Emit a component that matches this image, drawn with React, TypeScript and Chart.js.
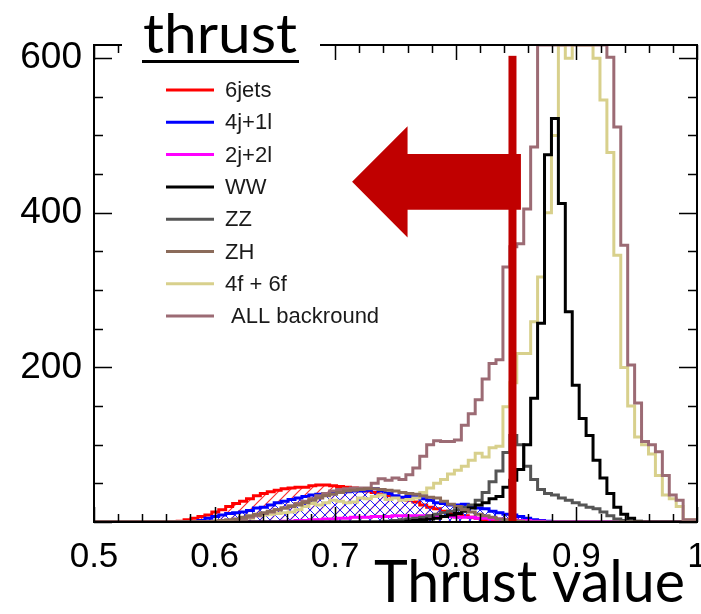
import React, { useEffect, useRef } from "react";
import { Chart, registerables } from "chart.js";

Chart.register(...registerables);

// ---------------- data ----------------
const BIN_START = 0.5;
const BIN_WIDTH = 1 / 174;
const X_MIN = 0.5;
const X_MAX = 1.0;
const Y_MIN = 0;
const Y_MAX = 617;
const X_TICK_LABELS = [0.5, 0.6, 0.7, 0.8, 0.9, 1];
const Y_TICK_LABELS = [200, 400, 600];
const X_TICK_STEP = 0.1;
const X_MINOR_STEP = 0.02;
const Y_TICK_STEP = 200;
const Y_MINOR_STEP = 50;

const SERIES_LABELS = ["6jets", "4j+1l", "2j+2l", "WW", "ZZ", "ZH", "4f + 6f", " ALL backround"];
const SERIES_COLORS = ["#ff0000", "#0000ff", "#ff00ff", "#000000", "#555555", "#8b6b5a", "#d8d08c", "#9c6b74"];
// lower = drawn on top
const SERIES_ORDER = [7, 6, 5, 2, 3, 0, 4, 1];

const SIX_JETS = [
  0, 0, 0, 0, 0, 0, 0, 0, 0, 0,
  0, 0, 0, 1, 3, 5, 7, 9, 13, 16,
  20, 24, 27, 30, 34, 37, 39, 41, 43, 44,
  45, 45, 47, 48, 48, 47, 46, 45, 44, 42,
  40, 38, 36, 34, 32, 30, 28, 26, 22, 19,
  17, 14, 12, 10, 8, 6, 5, 3, 2, 1,
  0, 0, 0, 0, 0, 0, 0, 0, 0, 0,
  0, 0, 0, 0, 0, 0, 0, 0, 0, 0,
  0, 0, 0, 0, 0, 0, 0,
];
const FOURJ_ONEL = [
  0, 0, 0, 0, 0, 0, 0, 0, 0, 0,
  0, 0, 0, 0, 0, 0, 2, 5, 7, 9,
  11, 12, 13, 15, 18, 19, 22, 25, 27, 29,
  31, 33, 35, 36, 37, 38, 38, 39, 40, 40,
  41, 43, 40, 37, 34, 32, 33, 34, 30, 28,
  25, 24, 22, 22, 23, 19, 18, 17, 14, 12,
  10, 9, 7, 5, 3, 2, 1, 0, 0, 0,
  0, 0, 0, 0, 0, 0, 0, 0, 0, 0,
  0, 0, 0, 0, 0, 0, 0,
];
const TWOJ_TWOL = [
  0, 0, 0, 0, 0, 0, 0, 0, 0, 0,
  0, 0, 0, 0, 0, 0, 0, 0, 0, 0,
  0, 0, 0, 0, 0, 0, 0, 0, 1, 1,
  2, 2, 3, 3, 4, 4, 5, 5, 6, 6,
  6, 7, 7, 7, 8, 8, 8, 8, 8, 8,
  7, 7, 7, 6, 6, 6, 5, 5, 4, 4,
  3, 3, 2, 2, 1, 1, 0, 0, 0, 0,
  0, 0, 0, 0, 0, 0, 0, 0, 0, 0,
  0, 0, 0, 0, 0, 0, 0,
];
const WW = [
  0, 0, 0, 0, 0, 0, 0, 0, 0, 0,
  0, 0, 0, 0, 0, 0, 0, 0, 0, 0,
  0, 0, 0, 0, 0, 0, 0, 0, 0, 0,
  0, 0, 0, 0, 0, 0, 0, 0, 0, 0,
  0, 0, 0, 0, 0, 0, 1, 2, 3, 4,
  5, 7, 9, 11, 14, 18, 22, 25, 30, 33,
  45, 54, 68, 100, 160, 257, 475, 522, 412, 272,
  177, 134, 112, 80, 57, 37, 19, 10, 5, 1,
  0, 0, 0, 0, 0, 0, 0,
];
const ZZ = [
  0, 0, 0, 0, 0, 0, 0, 0, 0, 0,
  0, 0, 0, 0, 0, 0, 0, 0, 0, 0,
  0, 0, 0, 0, 0, 0, 0, 0, 0, 0,
  0, 0, 0, 0, 0, 0, 0, 0, 0, 0,
  0, 0, 0, 1, 2, 3, 4, 5, 6, 8,
  10, 12, 14, 16, 19, 22, 28, 38, 52, 66,
  90, 112, 100, 72, 55, 42, 37, 35, 31, 28,
  25, 22, 19, 17, 13, 8, 4, 2, 1, 0,
  0, 0, 0, 0, 0, 0, 0,
];
const ZH = [
  0, 0, 0, 0, 0, 0, 0, 0, 0, 0,
  0, 0, 0, 0, 0, 0, 0, 0, 1, 2,
  3, 4, 6, 8, 10, 12, 14, 16, 18, 20,
  22, 25, 28, 31, 34, 36, 38, 40, 41, 42,
  43, 43, 42, 41, 40, 38, 37, 36, 34, 32,
  31, 27, 23, 20, 16, 13, 10, 8, 6, 4,
  3, 2, 1, 0, 0, 0, 0, 0, 0, 0,
  0, 0, 0, 0, 0, 0, 0, 0, 0, 0,
  0, 0, 0, 0, 0, 0, 0,
];
const FOURF_SIXF = [
  0, 0, 0, 0, 0, 0, 0, 0, 0, 0,
  0, 0, 0, 0, 0, 0, 0, 0, 0, 2,
  2, 2, 2, 5, 8, 9, 10, 11, 12, 13,
  16, 20, 24, 22, 25, 28, 27, 25, 26, 31,
  30, 33, 35, 29, 31, 28, 29, 31, 38, 44,
  50, 55, 62, 67, 72, 80, 89, 84, 96, 98,
  149, 180, 218, 218, 259, 317, 400, 500, 617, 600,
  617, 617, 617, 600, 546, 478, 345, 200, 150, 110,
  100, 88, 60, 35, 30, 20, 3,
];
const ALL_BACKGROUND = [
  0, 0, 0, 0, 0, 0, 0, 0, 0, 0,
  0, 0, 0, 0, 0, 0, 0, 0, 0, 0,
  0, 0, 4, 6, 8, 11, 13, 16, 18, 21,
  24, 27, 30, 34, 37, 40, 42, 43, 44, 44,
  44, 50, 56, 54, 57, 55, 61, 70, 85, 100,
  105, 104, 104, 106, 125, 140, 158, 185, 205, 210,
  330, 356, 360, 405, 485, 617, 617, 617, 617, 617,
  617, 617, 617, 617, 617, 601, 511, 358, 203, 154,
  104, 100, 91, 60, 35, 28, 3,
];
const SERIES_VALUES = [SIX_JETS, FOURJ_ONEL, TWOJ_TWOL, WW, ZZ, ZH, FOURF_SIXF, ALL_BACKGROUND];

// cut annotation (data units)
const CUT_VALUE = 0.847;
const CUT_TOP = 603;
const CUT_COLOR = "#c00000";
const ARROW_TIP_X = 0.714;
const ARROW_NECK_X = 0.76;
const ARROW_TAIL_X = 0.854;
const ARROW_MID_Y = 440;
const ARROW_SHAFT_HALF = 36;
const ARROW_HEAD_HALF = 72;

const TITLE_TEXT = "thrust";
const X_TITLE_TEXT = "Thrust value";

const SANS = '"Liberation Sans", Arial, sans-serif';
const HUMANIST = 'Lato, "Open Sans", sans-serif';

function toSteps(values: number[]) {
  const pts = values.map((v, i) => ({ x: BIN_START + i * BIN_WIDTH, y: v }));
  pts.push({ x: BIN_START + values.length * BIN_WIDTH, y: values[values.length - 1] });
  return pts;
}

function makeHatch(color: string, size: number, cross: boolean, lw: number) {
  const c = document.createElement("canvas");
  c.width = size;
  c.height = size;
  const g = c.getContext("2d")!;
  g.strokeStyle = color;
  g.lineWidth = lw;
  g.beginPath();
  g.moveTo(-1, size + 1);
  g.lineTo(size + 1, -1);
  g.moveTo(-1, 1);
  g.lineTo(1, -1);
  g.moveTo(size - 1, size + 1);
  g.lineTo(size + 1, size - 1);
  if (cross) {
    g.moveTo(-1, -1);
    g.lineTo(size + 1, size + 1);
    g.moveTo(size - 1, -1);
    g.lineTo(size + 1, 1);
    g.moveTo(-1, size - 1);
    g.lineTo(1, size + 1);
  }
  g.stroke();
  return g.createPattern(c, "repeat");
}

function drawFitted(ctx: CanvasRenderingContext2D, text: string, x: number, baseline: number, width: number, font: string) {
  ctx.save();
  ctx.font = font;
  ctx.textAlign = "left";
  ctx.textBaseline = "alphabetic";
  const w = ctx.measureText(text).width;
  ctx.translate(x, baseline);
  ctx.scale(width / w, 1);
  ctx.fillStyle = "#000";
  ctx.fillText(text, 0, 0);
  ctx.restore();
}

const rootStyle = {
  id: "rootStyle",
  afterDatasetsDraw(chart: any) {
    const { ctx, chartArea: a, scales } = chart;
    const xs = scales.x;
    const ys = scales.y;
    const px = (v: number) => xs.getPixelForValue(v);
    const py = (v: number) => ys.getPixelForValue(v);
    ctx.save();
    // cut line
    ctx.fillStyle = CUT_COLOR;
    const cx = px(CUT_VALUE);
    ctx.fillRect(cx - 4, py(CUT_TOP), 8, py(0) - py(CUT_TOP));
    // arrow
    ctx.beginPath();
    ctx.moveTo(px(ARROW_TIP_X), py(ARROW_MID_Y));
    ctx.lineTo(px(ARROW_NECK_X), py(ARROW_MID_Y + ARROW_HEAD_HALF));
    ctx.lineTo(px(ARROW_NECK_X), py(ARROW_MID_Y + ARROW_SHAFT_HALF));
    ctx.lineTo(px(ARROW_TAIL_X), py(ARROW_MID_Y + ARROW_SHAFT_HALF));
    ctx.lineTo(px(ARROW_TAIL_X), py(ARROW_MID_Y - ARROW_SHAFT_HALF));
    ctx.lineTo(px(ARROW_NECK_X), py(ARROW_MID_Y - ARROW_SHAFT_HALF));
    ctx.lineTo(px(ARROW_NECK_X), py(ARROW_MID_Y - ARROW_HEAD_HALF));
    ctx.closePath();
    ctx.fill();

    // frame
    ctx.strokeStyle = "#000";
    ctx.lineWidth = 2;
    ctx.strokeRect(a.left, a.top, a.right - a.left, a.bottom - a.top);
    // ticks (inward, ROOT style)
    ctx.lineWidth = 1.5;
    ctx.beginPath();
    const nx = Math.round((X_MAX - X_MIN) / X_MINOR_STEP);
    const perMajorX = Math.round(X_TICK_STEP / X_MINOR_STEP);
    for (let k = 0; k <= nx; k++) {
      const v = X_MIN + k * X_MINOR_STEP;
      const p = Math.round(px(v)) + 0.5;
      const len = k % perMajorX === 0 ? 15 : 8;
      ctx.moveTo(p, a.bottom);
      ctx.lineTo(p, a.bottom - len);
      ctx.moveTo(p, a.top);
      ctx.lineTo(p, a.top + len);
    }
    const ny = Math.floor((Y_MAX - Y_MIN) / Y_MINOR_STEP);
    const perMajorY = Math.round(Y_TICK_STEP / Y_MINOR_STEP);
    for (let k = 0; k <= ny; k++) {
      const v = Y_MIN + k * Y_MINOR_STEP;
      const p = Math.round(py(v)) + 0.5;
      const len = k % perMajorY === 0 ? 18 : 9;
      ctx.moveTo(a.left, p);
      ctx.lineTo(a.left + len, p);
      ctx.moveTo(a.right, p);
      ctx.lineTo(a.right - len, p);
    }
    ctx.stroke();
    ctx.restore();
  },
  afterDraw(chart: any) {
    const { ctx } = chart;
    ctx.save();
    // title box
    ctx.fillStyle = "#fff";
    ctx.fillRect(122, 0, 198, 80);
    drawFitted(ctx, TITLE_TEXT, 143, 53, 154, `54px ${HUMANIST}`);
    ctx.fillStyle = "#000";
    ctx.fillRect(142, 60, 157, 3);

    // legend
    const rowY0 = 90;
    const rowStep = 32.3;
    ctx.font = `22px ${SANS}`;
    ctx.textBaseline = "middle";
    ctx.textAlign = "left";
    SERIES_LABELS.forEach((lab, i) => {
      const yy = rowY0 + i * rowStep;
      ctx.strokeStyle = SERIES_COLORS[i];
      ctx.lineWidth = 3;
      ctx.beginPath();
      ctx.moveTo(166, yy);
      ctx.lineTo(214, yy);
      ctx.stroke();
      ctx.fillStyle = "#1a1a1a";
      ctx.fillText(lab, 225, yy + 1);
    });

    // x title
    drawFitted(ctx, X_TITLE_TEXT, 374, 602, 311, `58px ${HUMANIST}`);
    ctx.restore();
  },
};

export default function App() {
  const ref = useRef<HTMLCanvasElement | null>(null);
  useEffect(() => {
    if (!ref.current) return;
    const redHatch = makeHatch("#ff3030", 10, false, 1.2);
    const blueHatch = makeHatch("#2020ff", 10, true, 1);
    const datasets = SERIES_LABELS.map((lab, i) => ({
      label: lab,
      data: toSteps(SERIES_VALUES[i]),
      borderColor: SERIES_COLORS[i],
      borderWidth: 3,
      stepped: "after" as const,
      pointRadius: 0,
      tension: 0,
      borderJoinStyle: "miter" as const,
      fill: i === 0 || i === 1 ? "origin" : false,
      backgroundColor: i === 0 ? redHatch : i === 1 ? blueHatch : "transparent",
      order: SERIES_ORDER[i],
    }));
    const chart = new Chart(ref.current, {
      type: "line",
      data: { datasets: datasets as any },
      options: {
        animation: false,
        responsive: false,
        devicePixelRatio: 1,
        events: [],
        layout: { padding: { left: 0, top: 45, right: 4, bottom: 0 } },
        plugins: { legend: { display: false }, tooltip: { enabled: false } },
        scales: {
          x: {
            type: "linear",
            min: X_MIN,
            max: X_MAX,
            grid: { display: false, drawTicks: false },
            border: { display: false },
            afterBuildTicks: (s: any) => {
              s.ticks = X_TICK_LABELS.map((v) => ({ value: v }));
            },
            ticks: {
              autoSkip: false,
              maxRotation: 0,
              padding: 14,
              color: "#000",
              font: { family: SANS, size: 35 },
              callback: (v: any) => String(Number(Number(v).toFixed(2))),
            },
            afterFit: (s: any) => {
              s.height = 92;
              s.paddingLeft = 0;
              s.paddingRight = 0;
            },
          },
          y: {
            type: "linear",
            min: Y_MIN,
            max: Y_MAX,
            grid: { display: false, drawTicks: false },
            border: { display: false },
            afterBuildTicks: (s: any) => {
              s.ticks = Y_TICK_LABELS.map((v) => ({ value: v }));
            },
            ticks: {
              autoSkip: false,
              padding: 12,
              color: "#000",
              font: { family: SANS, size: 37 },
              callback: (v: any) => String(v),
            },
            afterFit: (s: any) => {
              s.width = 94;
              s.paddingTop = 0;
              s.paddingBottom = 0;
            },
          },
        },
      } as any,
      plugins: [rootStyle],
    });
    return () => chart.destroy();
  }, []);
  return (
    <div style={{ position: "absolute", left: 0, top: 0, width: 701, height: 614, background: "#fff" }}>
      <canvas ref={ref} width={701} height={614} style={{ display: "block", width: 701, height: 614 }} />
    </div>
  );
}
